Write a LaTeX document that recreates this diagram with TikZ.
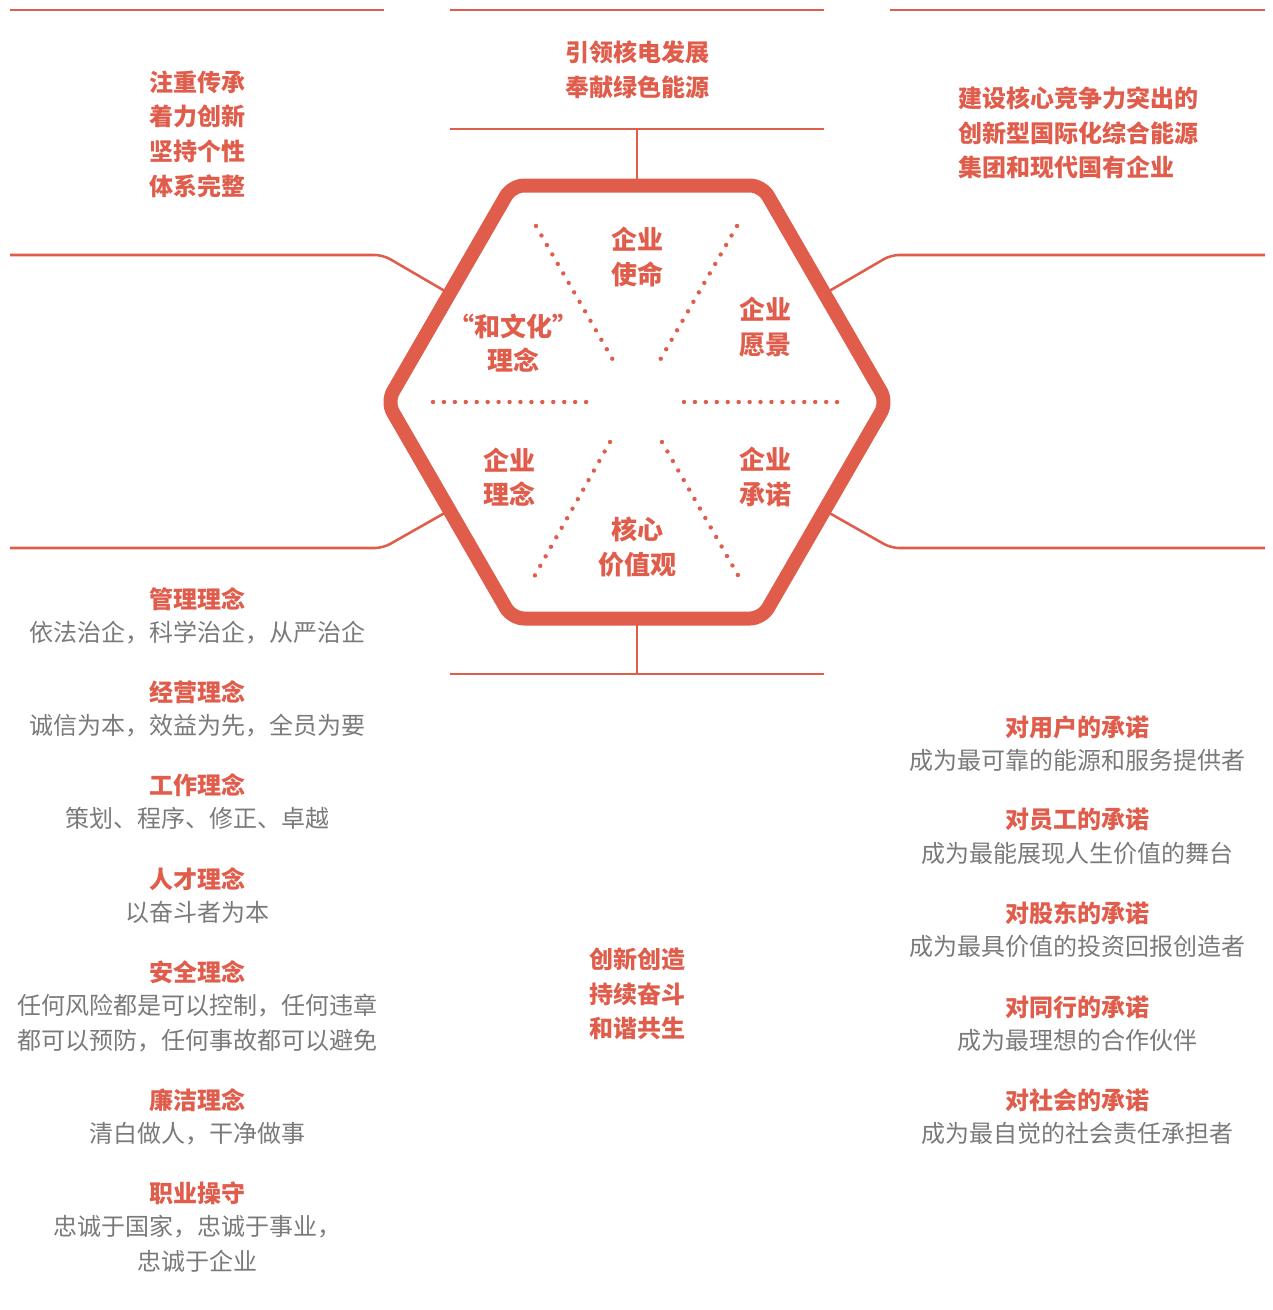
\documentclass[tikz,border=0pt]{standalone}
\usepackage{fontspec}
\setmainfont{Noto Sans CJK SC}
\usepackage{tikz}
\usetikzlibrary{positioning}
\definecolor{hexred}{HTML}{E05C4B}
\definecolor{textgray}{HTML}{7A7A7A}

\begin{document}
\begin{tikzpicture}[x=0.75pt,y=-0.75pt,
    hex line/.style={draw=hexred,line width=10.5pt,line join=round,rounded corners=9pt},
    thin line/.style={draw=hexred,line width=1.9pt,rounded corners=6pt},
    dot line/.style={draw=hexred,line width=3.3pt,line cap=round,dash pattern=on 0pt off 8.2pt},
    redtext/.style={text=hexred,font=\bfseries\fontsize{18}{26}\selectfont,align=center,inner sep=0pt},
    hextext/.style={redtext,font=\bfseries\fontsize{19.5}{26}\selectfont},
    graytext/.style={text=textgray,font=\fontsize{18}{26}\selectfont,align=center,inner sep=0pt}]
    \useasboundingbox (0,0) rectangle (1273,1310);

    % hexagon
    \coordinate (h1) at (887,402);
    \coordinate (h2) at (762,185.5);
    \coordinate (h3) at (512,185.5);
    \coordinate (h4) at (387,402);
    \coordinate (h5) at (512,618.5);
    \coordinate (h6) at (762,618.5);
    \coordinate (htop) at (637,185.5);
    \coordinate (hbot) at (637,618.5);
    \coordinate (hul) at (449.5,293.75);
    \coordinate (hur) at (824.5,293.75);
    \coordinate (hll) at (449.5,510.25);
    \coordinate (hlr) at (824.5,510.25);

    % frame lines
    \coordinate (tl1) at (10,10);     \coordinate (tl2) at (384,10);
    \coordinate (tm1) at (450,10);    \coordinate (tm2) at (824,10);
    \coordinate (tr1) at (890,10);    \coordinate (tr2) at (1265,10);
    \coordinate (tb1) at (450,129);   \coordinate (tb2) at (824,129);
    \coordinate (tbm) at (637,129);
    \coordinate (bm1) at (450,674);   \coordinate (bm2) at (824,674);
    \coordinate (bmm) at (637,674);
    \coordinate (ul1) at (10,255);    \coordinate (ul2) at (383,255);
    \coordinate (ur1) at (1265,255);  \coordinate (ur2) at (891,255);
    \coordinate (ll1) at (10,548);    \coordinate (ll2) at (383,548);
    \coordinate (lr1) at (1265,548);  \coordinate (lr2) at (891,548);

    \path[thin line] (tl1) -- (tl2);
    \path[thin line] (tm1) -- (tm2);
    \path[thin line] (tr1) -- (tr2);
    \path[thin line] (tb1) -- (tb2);
    \path[thin line] (bm1) -- (bm2);
    \path[thin line] (tbm) -- (htop);
    \path[thin line] (hbot) -- (bmm);
    \path[thin line] (ul1) -- (ul2) -- (hul);
    \path[thin line] (ur1) -- (ur2) -- (hur);
    \path[thin line] (ll1) -- (ll2) -- (hll);
    \path[thin line] (lr1) -- (lr2) -- (hlr);

    \path[hex line] (h1) -- (h2) -- (h3) -- (h4) -- (h5) -- (h6) -- cycle;

    % dotted dividers
    \coordinate (d1a) at (433,402);  \coordinate (d1b) at (590,402);
    \coordinate (d2a) at (684,402);  \coordinate (d2b) at (841,402);
    \coordinate (d3a) at (536,226);  \coordinate (d3b) at (613,360);
    \coordinate (d4a) at (737,226);  \coordinate (d4b) at (660,360);
    \coordinate (d5a) at (610,442);  \coordinate (d5b) at (534,577);
    \coordinate (d6a) at (662,442);  \coordinate (d6b) at (739,577);
    \foreach \a/\b in {d1a/d1b,d2a/d2b,d3a/d3b,d4a/d4b,d5a/d5b,d6a/d6b}
        \path[dot line] (\a) -- (\b);

    % hexagon labels
    \node[hextext] (mission) at (637,257) {企业\\使命};
    \node[hextext] (vision) at (765,327) {企业\\愿景};
    \node[hextext] (harmony) at (513,343) {“和文化”\\理念};
    \node[hextext] (philosophy) at (509,477) {企业\\理念};
    \node[hextext] (promise) at (765,477) {企业\\承诺};
    \node[hextext] (values) at (637,547) {核心\\价值观};

    % top texts
    \node[redtext] (mission text) at (637,70) {引领核电发展\\奉献绿色能源};
    \node[redtext] (harmony text) at (197,134) {注重传承\\着力创新\\坚持个性\\体系完整};
    \node[redtext,align=left,anchor=west] (vision text) at (958,133)
        {建设核心竞争力突出的\\创新型国际化综合能源\\集团和现代国有企业};

    % bottom middle
    \node[redtext] (values text) at (637,994) {创新创造\\持续奋斗\\和谐共生};

    % enterprise philosophy
    \node[redtext] (p1) at (197,599) {管理理念};
    \node[graytext] (p1d) [below=7.5pt of p1] {依法治企，科学治企，从严治企};
    \node[redtext] (p2) at (197,692) {经营理念};
    \node[graytext] (p2d) [below=7.5pt of p2] {诚信为本，效益为先，全员为要};
    \node[redtext] (p3) at (197,785) {工作理念};
    \node[graytext] (p3d) [below=7.5pt of p3] {策划、程序、修正、卓越};
    \node[redtext] (p4) at (197,879) {人才理念};
    \node[graytext] (p4d) [below=7.5pt of p4] {以奋斗者为本};
    \node[redtext] (p5) at (197,972) {安全理念};
    \node[graytext] (p5d) [below=7.5pt of p5] {任何风险都是可以控制，任何违章\\都可以预防，任何事故都可以避免};
    \node[redtext] (p6) at (197,1100) {廉洁理念};
    \node[graytext] (p6d) [below=7.5pt of p6] {清白做人，干净做事};
    \node[redtext] (p7) at (197,1193) {职业操守};
    \node[graytext] (p7d) [below=7.5pt of p7] {忠诚于国家，忠诚于事业，\\忠诚于企业};

    % enterprise promise
    \node[redtext] (c1) at (1077,727) {对用户的承诺};
    \node[graytext] (c1d) [below=7.5pt of c1] {成为最可靠的能源和服务提供者};
    \node[redtext] (c2) at (1077,820) {对员工的承诺};
    \node[graytext] (c2d) [below=7.5pt of c2] {成为最能展现人生价值的舞台};
    \node[redtext] (c3) at (1077,913) {对股东的承诺};
    \node[graytext] (c3d) [below=7.5pt of c3] {成为最具价值的投资回报创造者};
    \node[redtext] (c4) at (1077,1007) {对同行的承诺};
    \node[graytext] (c4d) [below=7.5pt of c4] {成为最理想的合作伙伴};
    \node[redtext] (c5) at (1077,1100) {对社会的承诺};
    \node[graytext] (c5d) [below=7.5pt of c5] {成为最自觉的社会责任承担者};
\end{tikzpicture}
\end{document}
